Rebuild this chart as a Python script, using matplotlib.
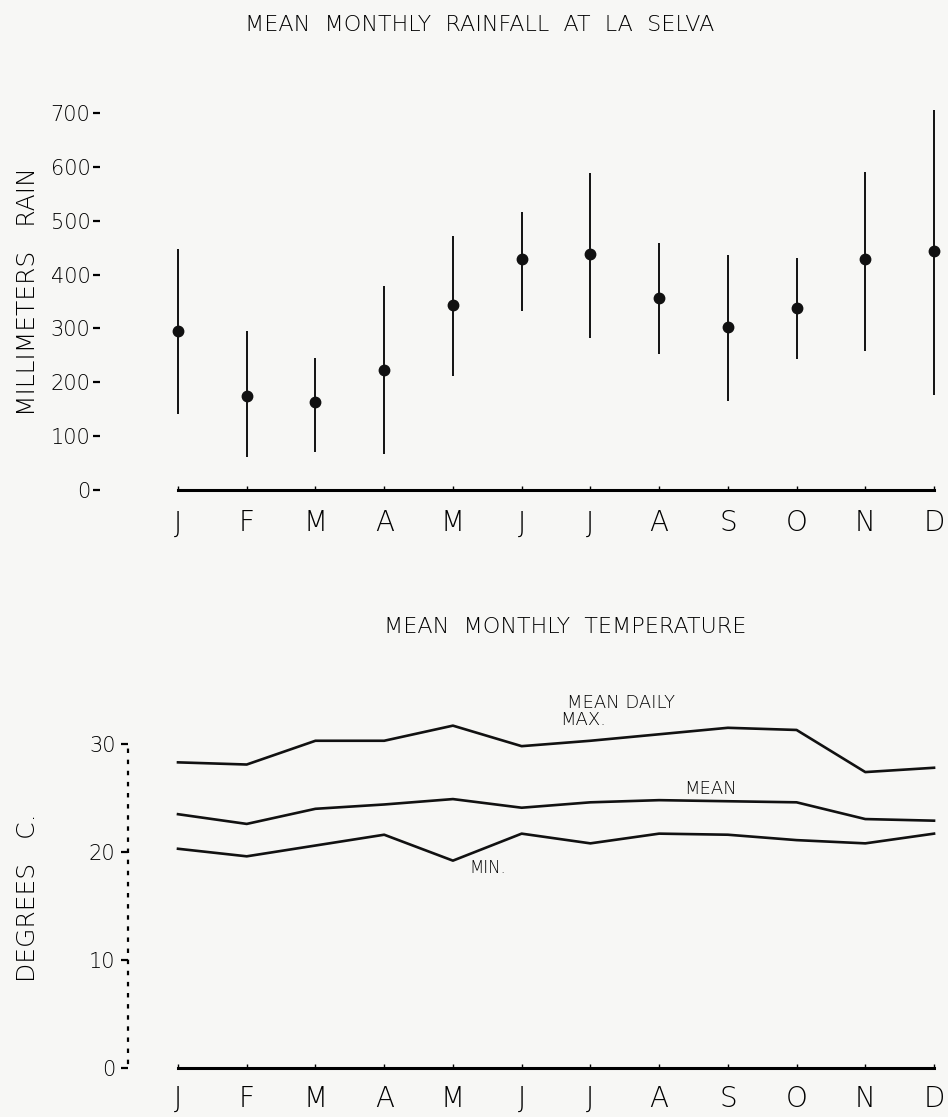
import numpy as np
import matplotlib.pyplot as plt

# month labels shared by both panels
months = ["J", "F", "M", "A", "M", "J", "J", "A", "S", "O", "N", "D"]

# rainfall (mm): mean and range
rain_mean = [295, 174, 163, 222, 344, 428, 439, 357, 302, 337, 428, 443]
rain_low = [141, 61, 70, 67, 211, 333, 283, 252, 165, 243, 259, 176]
rain_high = [448, 296, 246, 378, 472, 517, 589, 459, 437, 430, 591, 705]
rain_ticks = [0, 100, 200, 300, 400, 500, 600, 700]

# temperature (deg C)
t_max = [28.3, 28.1, 30.3, 30.3, 31.7, 29.8, 30.3, 30.9, 31.5, 31.3, 27.4, 27.8]
t_mean = [23.5, 22.6, 24.0, 24.4, 24.9, 24.1, 24.6, 24.8, 24.7, 24.6, 23.05, 22.9]
t_min = [20.3, 19.6, 20.6, 21.6, 19.2, 21.7, 20.8, 21.7, 21.6, 21.1, 20.8, 21.7]
temp_ticks = [0, 10, 20, 30]

plt.rcParams["font.weight"] = "light"
plt.rcParams["text.color"] = "black"
plt.rcParams["xtick.color"] = "black"
plt.rcParams["ytick.color"] = "black"

W, H = 948, 1117
fig = plt.figure(figsize=(W / 100, H / 100), dpi=100)
fig.patch.set_facecolor("#f7f7f5")

def px_axes(left, top, right, bottom):
    return fig.add_axes([left / W, 1 - bottom / H, (right - left) / W, (bottom - top) / H])

x = np.arange(12)
ink = "#111111"

# ---- rainfall panel ----
ax1 = px_axes(100, 100, 940, 500)
ax1.set_facecolor("none")
ax1.vlines(x, rain_low, rain_high, color=ink, lw=1.4)
ax1.plot(x, rain_mean, "o", color=ink, ms=7.5)
ax1.set_xlim((100 - 178) / 68.73, (940 - 178) / 68.73)
ax1.set_ylim((490 - 500) / 0.5386, (490 - 100) / 0.5386)
for s in ["top", "right", "left"]:
    ax1.spines[s].set_visible(False)
ax1.spines["bottom"].set_position(("data", 0))
ax1.spines["bottom"].set_bounds(0, 11)
ax1.spines["bottom"].set_linewidth(2.2)
ax1.set_xticks(x)
ax1.set_xticklabels(months, fontsize=20)
ax1.tick_params(axis="x", direction="in", length=3, width=1, pad=14)
ax1.set_yticks(rain_ticks)
ax1.set_yticklabels([str(t) for t in rain_ticks], fontsize=15)
ax1.tick_params(axis="y", direction="out", length=5, width=1.6, pad=2)

# ---- temperature panel ----
ax2 = px_axes(128, 690, 940, 1075)
ax2.set_facecolor("none")
for series in (t_max, t_mean, t_min):
    ax2.plot(x, series, color=ink, lw=1.9)
ax2.set_xlim((128 - 178) / 68.73, (940 - 178) / 68.73)
ax2.set_ylim((1068 - 1075) / 10.8, (1068 - 690) / 10.8)
for s in ["top", "right"]:
    ax2.spines[s].set_visible(False)
ax2.spines["left"].set_linestyle((0, (1, 4)))
ax2.spines["left"].set_linewidth(1.6)
ax2.spines["left"].set_bounds(0.5, 30.3)
ax2.spines["bottom"].set_position(("data", 0))
ax2.spines["bottom"].set_bounds(0, 11)
ax2.spines["bottom"].set_linewidth(2.2)
ax2.set_xticks(x)
ax2.set_xticklabels(months, fontsize=20)
ax2.tick_params(axis="x", direction="in", length=3, width=1, pad=12)
ax2.set_yticks(temp_ticks)
ax2.set_yticklabels([str(t) for t in temp_ticks], fontsize=15)
ax2.tick_params(axis="y", direction="out", length=5, width=1.6, pad=4)

ax2.text(6.45, 33.8, "MEAN DAILY", ha="center", va="center", fontsize=13)
ax2.text(5.9, 32.2, "MAX.", ha="center", va="center", fontsize=13)
ax2.text(7.75, 25.8, "MEAN", ha="center", va="center", fontsize=13)
ax2.text(4.5, 18.5, "MIN.", ha="center", va="center", fontsize=12)

# titles and axis titles in figure pixels
fig.text(480 / W, 1 - 25 / H, "MEAN  MONTHLY  RAINFALL  AT  LA  SELVA",
         ha="center", va="center", fontsize=16)
fig.text(565 / W, 1 - 627 / H, "MEAN  MONTHLY  TEMPERATURE",
         ha="center", va="center", fontsize=16)
fig.text(28 / W, 1 - 292 / H, "MILLIMETERS   RAIN", rotation=90,
         ha="center", va="center", fontsize=18)
fig.text(28 / W, 1 - 898 / H, "DEGREES   C.", rotation=90,
         ha="center", va="center", fontsize=18)

fig.savefig("out.png", dpi=100, facecolor=fig.get_facecolor())
